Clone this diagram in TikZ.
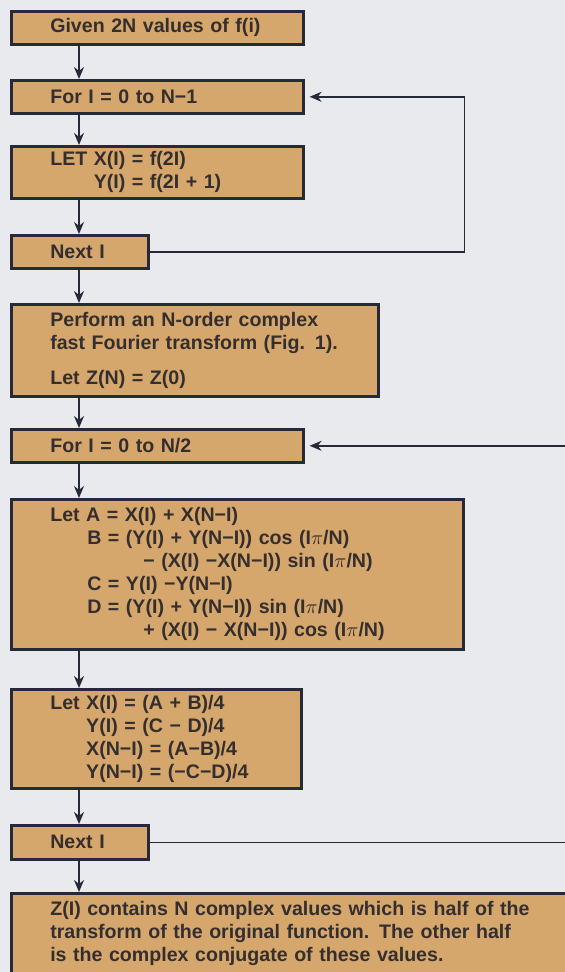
\documentclass[tikz,border=0pt]{standalone}
\usepackage{fontspec}
\setmainfont{Liberation Sans}
\usetikzlibrary{arrows.meta,calc,positioning}
\definecolor{boxfill}{RGB}{213,167,108}
\definecolor{paper}{RGB}{232,234,238}
\definecolor{ink}{RGB}{38,42,56}
\definecolor{textcol}{RGB}{52,46,46}
\tikzset{
  stepbox/.style={draw=ink, line width=1.3pt, fill=boxfill, anchor=north west, align=left,
    inner xsep=19.5pt, inner ysep=0pt, text=textcol,
    font=\fontsize{9.8}{11.5}\selectfont\bfseries},
  flow/.style={->, >={Stealth[length=6pt,width=5pt]}, draw=ink, line width=0.8pt},
}
\begin{document}
\begin{tikzpicture}[x=0.5pt, y=-0.5pt]
    \useasboundingbox (0,0) rectangle (565,972);
    \clip (0,0) rectangle (565,972);
    \fill[paper] (0,0) rectangle (565,972);
    % first loop: split into even and odd samples
    \node[stepbox, text width=107pt, minimum height=16.5pt] (given) at (10,10) {Given 2N values of f(i)};
    \node[stepbox, text width=107pt, minimum height=16.5pt] (loopa) at (10,79) {For I = 0 to N−1};
    \node[stepbox, text width=107pt, minimum height=26pt] (letxy) at (10,145)
      {LET X(I) = f(2I)\\\hphantom{LET }Y(I) = f(2I + 1)};
    \node[stepbox, text width=29.5pt, minimum height=16.5pt] (nexta) at (10,234) {Next I};
    \node[stepbox, text width=144.5pt, minimum height=46pt] (fft) at (10,303)
      {Perform an N-order complex\\fast Fourier transform (Fig. 1).\\[6pt]Let Z(N) = Z(0)};
    % second loop: recombine
    \node[stepbox, text width=107pt, minimum height=16.5pt] (loopb) at (10,428) {For I = 0 to N/2};
    \node[stepbox, text width=187pt, minimum height=75pt] (butterfly) at (10,498)
      {Let A = X(I) + X(N−I)\\
       \hspace*{18.5pt}B = (Y(I) + Y(N−I)) cos (I$\pi$/N)\\
       \hspace*{46.5pt}− (X(I) −X(N−I)) sin (I$\pi$/N)\\
       \hspace*{18.5pt}C = Y(I) −Y(N−I)\\
       \hspace*{18.5pt}D = (Y(I) + Y(N−I)) sin (I$\pi$/N)\\
       \hspace*{46.5pt}+ (X(I) − X(N−I)) cos (I$\pi$/N)};
    \node[stepbox, text width=106pt, minimum height=49.5pt] (scale) at (10,688)
      {Let X(I) = (A + B)/4\\
       \hphantom{Let }Y(I) = (C − D)/4\\
       \hphantom{Let }X(N−I) = (A−B)/4\\
       \hphantom{Let }Y(N−I) = (−C−D)/4};
    \node[stepbox, text width=29.5pt, minimum height=17pt] (nextb) at (10,824) {Next I};
    \node[stepbox, text width=243.5pt, minimum height=40pt] (result) at (10,892)
      {Z(I) contains N complex values which is half of the\\
       transform of the original function. The other half\\
       is the complex conjugate of these values.};
    \foreach \a/\b in {given/loopa, loopa/letxy, letxy/nexta, nexta/fft, fft/loopb,
                       loopb/butterfly, butterfly/scale, scale/nextb, nextb/result}
      \draw[flow] ($(\a.south west)+(69,0)$) -- ($(\b.north west)+(69,0)$);
    \draw[flow, shorten >=2.5pt] (nexta.east) -- ++(315,0) |- (loopa.east);
    \coordinate (back) at (600,0);
    \draw[flow, shorten >=2.5pt] (nextb.east) -- (nextb.east -| back) |- (loopb.east);
\end{tikzpicture}
\end{document}
